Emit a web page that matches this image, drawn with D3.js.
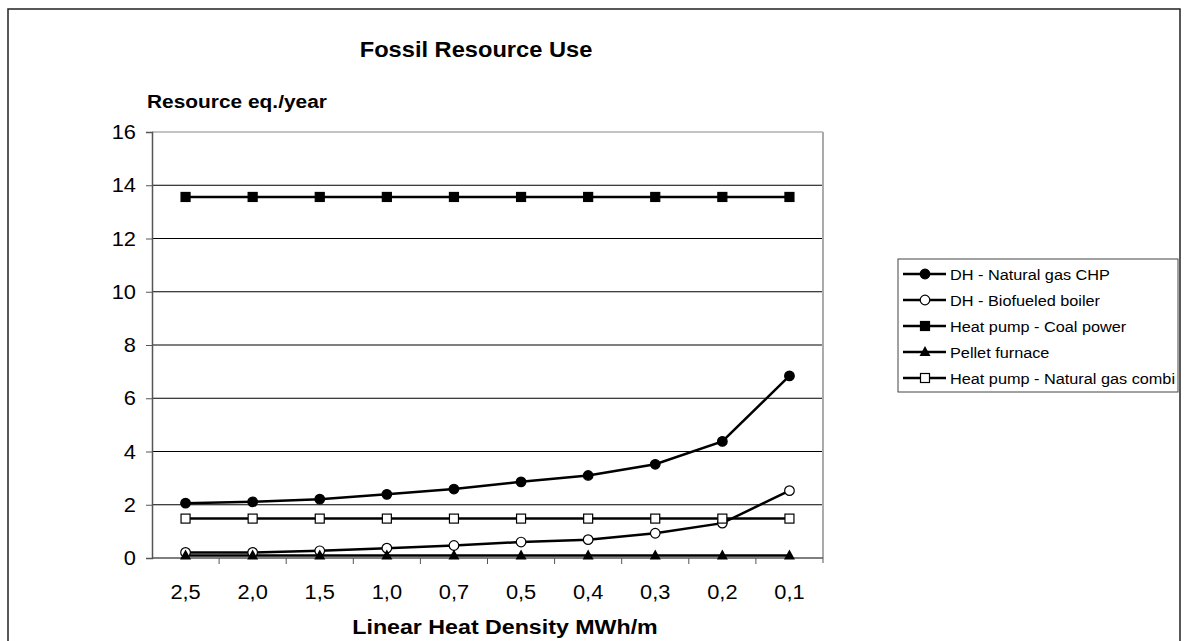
<!DOCTYPE html>
<html>
<head>
<meta charset="utf-8">
<script src="https://cdn.jsdelivr.net/npm/d3@7"></script>
<style>
  body { margin: 0; background: #fff; }
  text { font-family: "Liberation Sans", Arial, sans-serif; fill: #000; }
</style>
</head>
<body>
<div id="chart"></div>
<script>
var categories = ['2,5', '2,0', '1,5', '1,0', '0,7', '0,5', '0,4', '0,3', '0,2', '0,1'];
var yTicks = [0, 2, 4, 6, 8, 10, 12, 14, 16];

var seriesNames = ['DH - Natural gas CHP', 'DH - Biofueled boiler', 'Heat pump - Coal power',
    'Pellet furnace', 'Heat pump - Natural gas combi'];
var seriesMarkers = ['circleFilled', 'circleOpen', 'squareFilled', 'triangle', 'squareOpen'];

var gasChp = [2.06, 2.11, 2.21, 2.39, 2.59, 2.86, 3.10, 3.52, 4.38, 6.84];
var bioBoiler = [0.21, 0.21, 0.27, 0.37, 0.47, 0.60, 0.69, 0.93, 1.31, 2.53];
var coalPower = [13.56, 13.56, 13.56, 13.56, 13.56, 13.56, 13.56, 13.56, 13.56, 13.56];
var pellet = [0.09, 0.09, 0.09, 0.09, 0.09, 0.09, 0.09, 0.09, 0.09, 0.09];
var gasCombi = [1.48, 1.48, 1.48, 1.48, 1.48, 1.48, 1.48, 1.48, 1.48, 1.48];
var seriesValues = [gasChp, bioBoiler, coalPower, pellet, gasCombi];

var width = 1187, height = 641;
var plot = {left: 152, right: 823, top: 132, bottom: 558};

var svg = d3.select('#chart').append('svg')
    .attr('width', width)
    .attr('height', height);

// the original text is a bit wider than Liberation Sans, so stretch it sideways
function addText(parent, tx, ty, str, size, sx, anchor, bold){
    return parent.append('text')
        .attr('transform', 'translate(' + tx + ',' + ty + ') scale(' + sx + ',1)')
        .attr('text-anchor', anchor || 'start')
        .style('font-size', size + 'px')
        .style('font-weight', bold ? 'bold' : 'normal')
        .text(str);
}

// outer chart border
svg.append('rect')
    .attr('x', 8).attr('y', 9)
    .attr('width', 1172).attr('height', 700)
    .attr('fill', 'none')
    .attr('stroke', '#222')
    .attr('stroke-width', 1.5);

var x = d3.scaleBand()
    .domain(categories)
    .range([plot.left, plot.right]);

var y = d3.scaleLinear()
    .domain([0, 16])
    .range([plot.bottom, plot.top]);

// gridlines
svg.append('g')
    .selectAll('line')
    .data(yTicks.filter(function(d){ return d > 0; }))
    .enter()
    .append('line')
    .attr('x1', plot.left).attr('x2', plot.right)
    .attr('y1', function(d){ return y(d); })
    .attr('y2', function(d){ return y(d); })
    .attr('stroke', function(d){ return d === 16 ? '#888' : '#000'; })
    .attr('stroke-width', 1);

// right border of plot area
svg.append('line')
    .attr('x1', plot.right).attr('x2', plot.right)
    .attr('y1', plot.top).attr('y2', plot.bottom + 5)
    .attr('stroke', '#aaa')
    .attr('stroke-width', 2);

// y axis
var yAxis = svg.append('g')
    .attr('transform', 'translate(' + plot.left + ',0)')
    .call(d3.axisLeft(y).tickValues(yTicks).tickSize(6).tickFormat(''));
yAxis.select('.domain').attr('stroke', '#555').attr('stroke-width', 1.5);
yAxis.selectAll('.tick line').attr('stroke', '#555');
yTicks.forEach(function(t){
    addText(svg, plot.left - 16, y(t) + 7, String(t), 19.5, 1.12, 'end');
});

// x axis: ticks between categories
var xAxis = svg.append('g')
    .attr('transform', 'translate(0,' + plot.bottom + ')');
xAxis.append('line')
    .attr('x1', plot.left).attr('x2', plot.right)
    .attr('stroke', '#555').attr('stroke-width', 1.5);
xAxis.selectAll('line.tk')
    .data(categories.slice(1))
    .enter()
    .append('line')
    .attr('class', 'tk')
    .attr('x1', function(d){ return x(d); })
    .attr('x2', function(d){ return x(d); })
    .attr('y1', 0).attr('y2', 6)
    .attr('stroke', '#555');
categories.forEach(function(c){
    addText(xAxis, x(c) + x.bandwidth() / 2, 41, c, 19.5, 1.12, 'middle');
});

// lines and markers
var line = d3.line()
    .x(function(d, i){ return x(categories[i]) + x.bandwidth() / 2; })
    .y(function(d){ return y(d); });

seriesValues.forEach(function(values){
    svg.append('path')
        .datum(values)
        .attr('d', line)
        .attr('fill', 'none')
        .attr('stroke', '#000')
        .attr('stroke-width', 2.5);
});

function drawMarker(g, type, cx, cy){
    if(type === 'circleFilled' || type === 'circleOpen'){
        g.append('circle')
            .attr('cx', cx).attr('cy', cy).attr('r', 4.8)
            .attr('fill', type === 'circleFilled' ? '#000' : '#fff')
            .attr('stroke', '#000').attr('stroke-width', 1.2);
    }else if(type === 'squareFilled' || type === 'squareOpen'){
        g.append('rect')
            .attr('x', cx - 4.5).attr('y', cy - 4.5)
            .attr('width', 9).attr('height', 9)
            .attr('fill', type === 'squareFilled' ? '#000' : '#fff')
            .attr('stroke', '#000').attr('stroke-width', 1.2);
    }else{
        g.append('path')
            .attr('d', 'M' + cx + ',' + (cy - 6) + 'L' + (cx + 5.5) + ',' + (cy + 4) + 'L' + (cx - 5.5) + ',' + (cy + 4) + 'Z')
            .attr('fill', '#000');
    }
}

seriesValues.forEach(function(values, s){
    var g = svg.append('g');
    values.forEach(function(v, i){
        drawMarker(g, seriesMarkers[s], x(categories[i]) + x.bandwidth() / 2, y(v));
    });
});

// titles
addText(svg, 476, 57, 'Fossil Resource Use', 21.5, 1.1, 'middle', true);
addText(svg, 147, 108, 'Resource eq./year', 18.5, 1.13, 'start', true);
addText(svg, 505, 634, 'Linear Heat Density MWh/m', 19.5, 1.19, 'middle', true);

// legend
var legend = svg.append('g');
legend.append('rect')
    .attr('x', 898).attr('y', 259)
    .attr('width', 280).attr('height', 133)
    .attr('fill', '#fff')
    .attr('stroke', '#444').attr('stroke-width', 1);

seriesNames.forEach(function(name, s){
    var ly = 274 + s * 26;
    legend.append('line')
        .attr('x1', 903).attr('x2', 946)
        .attr('y1', ly).attr('y2', ly)
        .attr('stroke', '#000').attr('stroke-width', 2.5);
    drawMarker(legend, seriesMarkers[s], 925, ly);
    addText(legend, 950, ly + 5.5, name, 15.5, 1.05, 'start');
});
</script>
</body>
</html>
